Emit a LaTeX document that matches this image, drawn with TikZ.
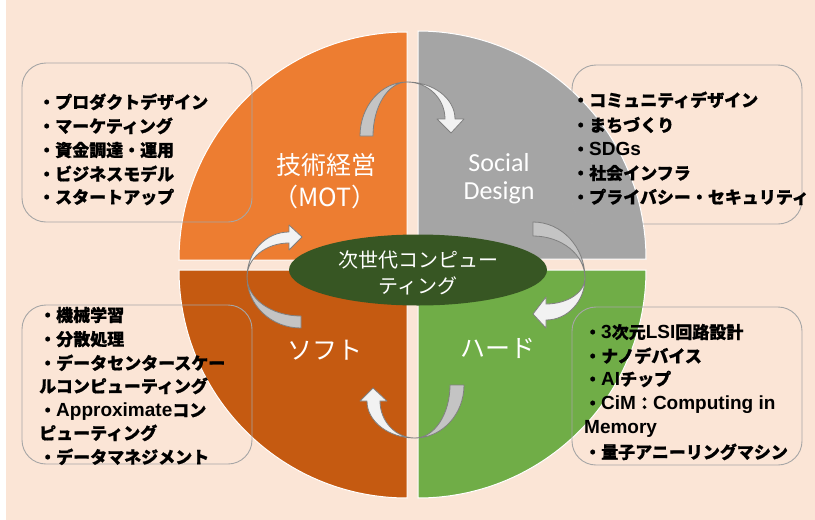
\documentclass[tikz,border=0pt]{standalone}
\usepackage{fontspec}
\setmainfont{Noto Sans CJK JP}
\newfontfamily\jpfont{Noto Sans CJK JP}[BoldFeatures={FakeBold=0.8}]
\newfontfamily\latfont{Liberation Sans}
\newfontfamily\calfont{Carlito}
\usetikzlibrary{shapes.geometric}
\definecolor{bgpeach}{HTML}{FBE5D6}
\definecolor{qorange}{HTML}{ED7D31}
\definecolor{qgray}{HTML}{A5A5A5}
\definecolor{qbrown}{HTML}{C55A11}
\definecolor{qgreen}{HTML}{70AD47}
\definecolor{coregreen}{HTML}{375623}
\definecolor{arrback}{HTML}{C4C4C4}
\definecolor{arrfront}{HTML}{F2F2F2}
\definecolor{arrline}{HTML}{808080}
\definecolor{boxgray}{HTML}{A6A6A6}
\newcommand\latx[1]{{\latfont\bfseries\fontsize{19}{20}\selectfont #1}}
\tikzset{
  quad/.style={draw=white, line width=1pt},
  arrb/.style={fill=arrback, draw=arrline, line width=0.8pt, line join=round},
  arrf/.style={fill=arrfront, draw=arrline, line width=0.8pt, line join=round},
  tbox/.style={draw=boxgray, rounded corners=24pt, line width=0.9pt, inner sep=0pt, fill=none},
  item/.style={anchor=west, inner sep=0pt, text=black,
    font={\jpfont\bfseries\fontsize{17}{20}\selectfont}, text height=15pt, text depth=2pt},
  qlab/.style={text=white, inner sep=0pt, font={\jpfont\fontsize{25}{30}\selectfont}},
  slab/.style={text=white, inner sep=0pt, font={\calfont\fontsize{26}{30}\selectfont}},
}
\begin{document}
\begin{tikzpicture}[x=1pt,y=-1pt]
\useasboundingbox (0,0) rectangle (815,520);
\fill[white] (0,0) rectangle (815,520);
\fill[bgpeach] (6,0) rectangle (815,520);

% quadrants
\filldraw[quad, fill=qorange] (407,260) -- (179,260) arc[start angle=180,end angle=270,radius=228] -- cycle;
\filldraw[quad, fill=qgray] (418,259) -- (418,31) arc[start angle=270,end angle=360,radius=228] -- cycle;
\filldraw[quad, fill=qgreen] (418,270) -- (646,270) arc[start angle=0,end angle=90,radius=228] -- cycle;
\filldraw[quad, fill=qbrown] (407,270) -- (407,498) arc[start angle=90,end angle=180,radius=228] -- cycle;

% top arrow
\filldraw[arrb] (360,136) arc[start angle=180,end angle=270,x radius=47,y radius=54]
  arc[start angle=270,end angle=180,x radius=34,y radius=54] -- cycle;
\filldraw[arrf] (407,82) arc[start angle=270,end angle=360,x radius=48,y radius=37]
  -- (464,119) -- (451,133) -- (437,119) -- (445,119)
  arc[start angle=0,end angle=-90,x radius=38,y radius=37] -- cycle;
% right arrow
\filldraw[arrb] (533,222) arc[start angle=270,end angle=360,x radius=52,y radius=56]
  arc[start angle=0,end angle=-90,x radius=52,y radius=42] -- cycle;
\filldraw[arrf] (585,278) arc[start angle=0,end angle=90,x radius=39,y radius=42]
  -- (546,328) -- (533,314) -- (546,297) -- (546,304)
  arc[start angle=90,end angle=0,x radius=39,y radius=26] -- cycle;
% bottom arrow
\filldraw[arrb] (464,385) arc[start angle=0,end angle=90,x radius=49,y radius=53]
  arc[start angle=90,end angle=0,x radius=35,y radius=53] -- cycle;
\filldraw[arrf] (415,438) arc[start angle=90,end angle=180,x radius=48,y radius=37]
  -- (360,401) -- (373,388) -- (387,401) -- (380,401)
  arc[start angle=180,end angle=90,x radius=35,y radius=37] -- cycle;
% left arrow
\filldraw[arrb] (301,328) arc[start angle=90,end angle=180,x radius=54,y radius=51]
  arc[start angle=180,end angle=90,x radius=54,y radius=39] -- cycle;
\filldraw[arrf] (247,277) arc[start angle=180,end angle=270,x radius=42,y radius=45]
  -- (289,225) -- (302,237) -- (289,250) -- (289,243)
  arc[start angle=270,end angle=180,x radius=42,y radius=34] -- cycle;

% centre ellipse
\node[ellipse, fill=coregreen, minimum width=258pt, minimum height=71pt, inner sep=0pt] (core) at (418,270) {};
\node[text=white, align=center, inner sep=0pt, font={\jpfont\fontsize{20}{26}\selectfont}] (coretext) at (418,273) {次世代コンピュー\\ティング};

% quadrant labels
\node[qlab] (mot1) at (326,165) {技術経営};
\node[qlab] (mot2) at (325,197) {（MOT）};
\node[slab] (soc1) at (499,163) {Social};
\node[slab] (soc2) at (499,193) {Design};
\node[qlab] (soft) at (325,350) {ソフト};
\node[qlab] (hard) at (498,348) {ハード};

% text boxes
\node[tbox, minimum width=230pt, minimum height=159pt] (box1) at (137,142.5) {};
\node[tbox, minimum width=230pt, minimum height=159pt] (box2) at (687,144.5) {};
\node[tbox, minimum width=230pt, minimum height=159pt] (box3) at (137,384.5) {};
\node[tbox, minimum width=230pt, minimum height=158pt] (box4) at (687,386) {};

% box 1
\node[item] (a1) at (38,102) {・プロダクトデザイン};
\node[item] (a2) at (38,126) {・マーケティング};
\node[item] (a3) at (38,150) {・資金調達・運用};
\node[item] (a4) at (38,174) {・ビジネスモデル};
\node[item] (a5) at (38,197) {・スタートアップ};
% box 2
\node[item] (b1) at (572,100) {・コミュニティデザイン};
\node[item] (b2) at (572,125) {・まちづくり};
\node[item] (b3) at (572,149) {・\latx{SDGs}};
\node[item] (b4) at (572,173) {・社会インフラ};
\node[item] (b5) at (572,197) {・プライバシー・セキュリティ};
% box 3
\node[item] (c1) at (39,315) {・機械学習};
\node[item] (c2) at (39,339) {・分散処理};
\node[item] (c3) at (39,363) {・データセンタースケー};
\node[item] (c4) at (39,386) {ルコンピューティング};
\node[item] (c5) at (39,410) {・\latx{Approximate}コン};
\node[item] (c6) at (39,433) {ピューティング};
\node[item] (c7) at (39,457) {・データマネジメント};
% box 4
\node[item] (d1) at (584,332) {・\latx{3}次元\latx{LSI}回路設計};
\node[item] (d2) at (584,356) {・ナノデバイス};
\node[item] (d3) at (584,379) {・\latx{AI}チップ};
\node[item] (d4) at (584,403) {・\latx{CiM}：\latx{Computing in}};
\node[item] (d5) at (584,427) {\latx{Memory}};
\node[item] (d6) at (584,452) {・量子アニーリングマシン};
\end{tikzpicture}
\end{document}
